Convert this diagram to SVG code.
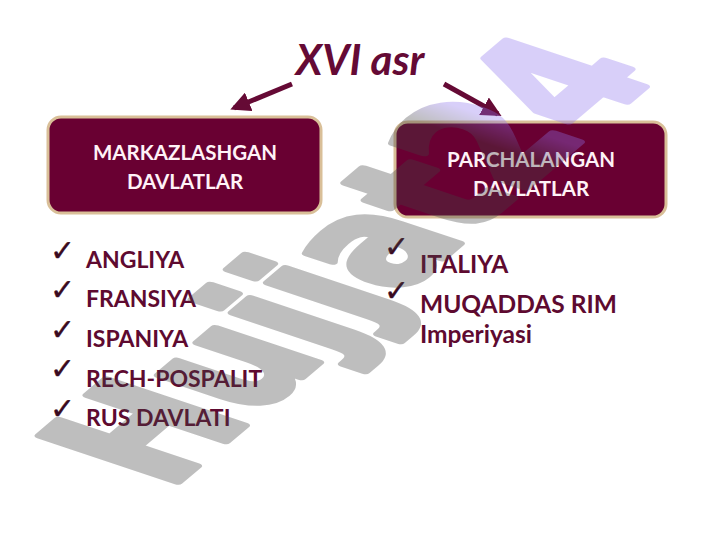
<svg xmlns="http://www.w3.org/2000/svg" width="720" height="540" viewBox="0 0 720 540">
<defs>
<style>
.title{font-family:Lato,"Liberation Sans",sans-serif;font-style:italic;font-weight:bold;font-size:42px;fill:#650a35}
.box{fill:#690032;stroke:#d9bf98;stroke-width:3}
.bt{font-family:Lato,"Liberation Sans",sans-serif;font-weight:bold;font-size:20.5px;fill:#fff2f7;text-anchor:middle}
.li{font-family:Lato,"Liberation Sans",sans-serif;font-weight:bold;font-size:23px;fill:#5e0a30}
.lr{font-size:24.5px}
.ck{font-family:"DejaVu Sans",sans-serif;font-size:30px;fill:#3a0a20;stroke:#3a0a20;stroke-width:0.4}
.arr{stroke:#650a35;stroke-width:5;fill:none}
.wm{font-family:"DejaVu Sans",sans-serif;font-weight:bold;font-size:100px;fill:url(#wmg);stroke:url(#wmg);stroke-width:5;stroke-linejoin:round;opacity:0.34}
</style>
<marker id="ah" viewBox="0 0 10 10" refX="8" refY="5" markerWidth="4" markerHeight="4" orient="auto" markerUnits="strokeWidth">
<path d="M0,0 L10,5 L0,10 z" fill="#650a35"/>
</marker>
<linearGradient id="wmg" gradientUnits="userSpaceOnUse" x1="372" y1="0" x2="395" y2="0">
<stop offset="0" stop-color="#434343"/>
<stop offset="1" stop-color="#8f75f0"/>
</linearGradient>
</defs>
<rect width="720" height="540" fill="#ffffff"/>
<g id="title"><text class="title" x="360" y="75" text-anchor="middle">XVI asr</text></g>
<g id="connectors">
<line class="arr" x1="292" y1="84" x2="234" y2="108" marker-end="url(#ah)"/>
<line class="arr" x1="444" y1="84" x2="498" y2="114" marker-end="url(#ah)"/>
</g>
<g id="node-markaz">
<rect class="box" x="48" y="117" width="273" height="96" rx="13"/>
<text class="bt" x="185" y="160">MARKAZLASHGAN</text>
<text class="bt" x="185" y="189">DAVLATLAR</text>
</g>
<g id="node-parcha">
<rect class="box" x="395" y="122" width="271" height="95" rx="13"/>
<text class="bt" x="531" y="167">PARCHALANGAN</text>
<text class="bt" x="531" y="196">DAVLATLAR</text>
</g>
<g id="list-left">
<text class="ck" x="50" y="261">✓</text><text class="li" x="86" y="268">ANGLIYA</text>
<text class="ck" x="50" y="300">✓</text><text class="li" x="86" y="307">FRANSIYA</text>
<text class="ck" x="50" y="340">✓</text><text class="li" x="86" y="347">ISPANIYA</text>
<text class="ck" x="50" y="379">✓</text><text class="li" x="86" y="387">RECH-POSPALIT</text>
<text class="ck" x="50" y="419">✓</text><text class="li" x="86" y="426">RUS DAVLATI</text>
</g>
<g id="list-right">
<text class="ck" x="384" y="257">✓</text><text class="li lr" x="420" y="273">ITALIYA</text>
<text class="ck" x="384" y="301">✓</text><text class="li lr" x="420" y="313">MUQADDAS RIM</text>
<text class="li lr" x="420" y="343">Imperiyasi</text>
</g>
<g id="watermark"><text class="wm" transform="matrix(1.03 -0.872 1.887 0.631 168 490)">Hujjat24</text></g>
</svg>
